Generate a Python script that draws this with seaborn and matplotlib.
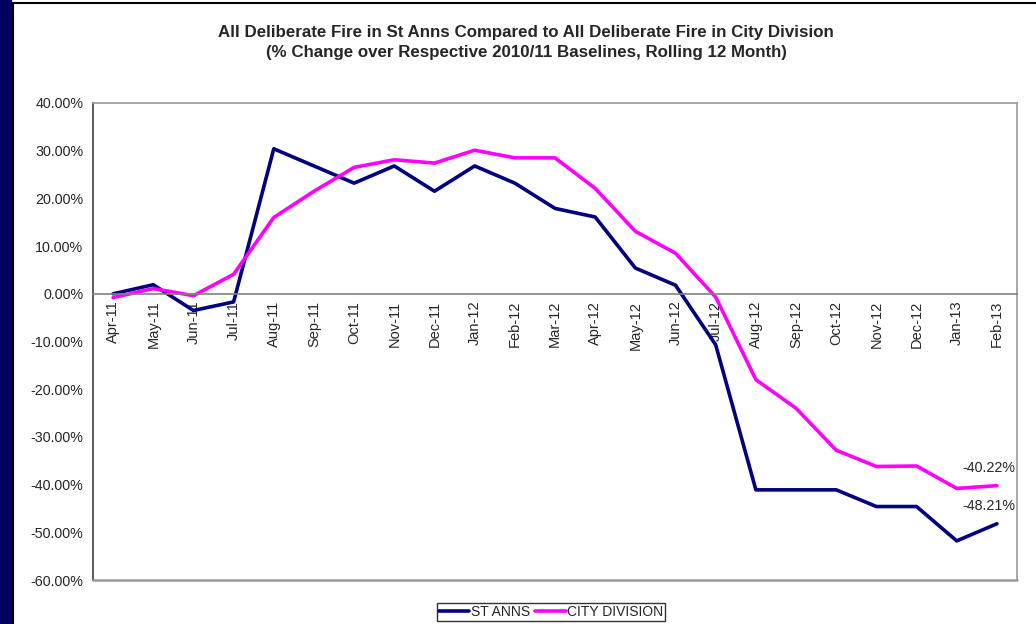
import matplotlib
matplotlib.use("Agg")
import matplotlib.pyplot as plt
import matplotlib.patches as mpatches
from matplotlib.lines import Line2D
import seaborn as sns
import pandas as pd
import numpy as np

months = ["Apr-11", "May-11", "Jun-11", "Jul-11", "Aug-11", "Sep-11", "Oct-11", "Nov-11",
          "Dec-11", "Jan-12", "Feb-12", "Mar-12", "Apr-12", "May-12", "Jun-12", "Jul-12",
          "Aug-12", "Sep-12", "Oct-12", "Nov-12", "Dec-12", "Jan-13", "Feb-13"]
st_anns = [0.0, 1.9, -3.5, -1.7, 30.4, 26.8, 23.2, 26.8, 21.5, 26.8, 23.2, 17.9, 16.1,
           5.4, 1.8, -10.7, -41.1, -41.1, -41.1, -44.6, -44.6, -51.8, -48.21]
city_division = [-0.8, 1.1, -0.4, 4.1, 16.0, 21.5, 26.5, 28.1, 27.4, 30.1, 28.5, 28.5, 22.1,
                 13.1, 8.5, -0.7, -18.0, -24.0, -32.8, -36.2, -36.1, -40.8, -40.22]
series_names = ["ST ANNS", "CITY DIVISION"]
y_ticks = [40, 30, 20, 10, 0, -10, -20, -30, -40, -50, -60]

sns.set_style("white")
plt.rcParams["font.family"] = ["Liberation Sans", "DejaVu Sans"]

df = pd.DataFrame({
    "idx": list(range(len(months))) * 2,
    "value": st_anns + city_division,
    "series": [series_names[0]] * len(months) + [series_names[1]] * len(months),
})

fig = plt.figure(figsize=(10.36, 6.24), dpi=100)
ax = fig.add_axes([93 / 1036, 1 - 580 / 624, (1017 - 93) / 1036, (580 - 103) / 624])

sns.lineplot(data=df, x="idx", y="value", hue="series", hue_order=series_names,
             palette=["#000080", "#FF00FF"], linewidth=2.6, ax=ax, legend=False)

# spines first (set_position resets tick settings)
ax.spines["bottom"].set_position(("data", 0))
ax.spines["bottom"].set_color("#808080")
ax.spines["bottom"].set_linewidth(1.2)
for s in ["top", "right"]:
    ax.spines[s].set_color("#999999")
    ax.spines[s].set_linewidth(1.2)
ax.spines["left"].set_color("#404040")
ax.spines["left"].set_linewidth(1.2)
ax.axhline(-60, color="#999999", linewidth=1.8, clip_on=False, zorder=3)

ax.set_xlim(-0.5, len(months) - 0.5)
ax.set_ylim(-60, 40)
ax.set_yticks(y_ticks)
ax.set_yticklabels([f"{v:.2f}%" for v in y_ticks], fontsize=10.3)
ax.set_xticks(range(len(months)))
ax.set_xticklabels(months, rotation=90, fontsize=10.5)
ax.set_xticks(np.arange(-0.5, len(months), 1.0), minor=True)
ax.tick_params(axis="x", which="major", length=0, pad=5)
ax.tick_params(axis="x", which="minor", length=5, width=1, color="#808080", direction="out")
ax.tick_params(axis="y", length=5, width=1, color="#404040", direction="out", pad=2)
ax.set_xlabel("")
ax.set_ylabel("")

last = len(months) - 1
ax.annotate(f"{city_division[-1]:.2f}%", (last, city_division[-1]), xytext=(-6, 8),
            textcoords="offset points", ha="center", va="bottom", fontsize=10.3)
ax.annotate(f"{st_anns[-1]:.2f}%", (last, st_anns[-1]), xytext=(-6, 8),
            textcoords="offset points", ha="center", va="bottom", fontsize=10.3)

fig.text(526 / 1036, 1 - 33 / 624,
         "All Deliberate Fire in St Anns Compared to All Deliberate Fire in City Division",
         ha="center", va="center", fontsize=12.2, fontweight="bold")
fig.text(526 / 1036, 1 - 53 / 624,
         "(% Change over Respective 2010/11 Baselines, Rolling 12 Month)",
         ha="center", va="center", fontsize=12.2, fontweight="bold")

handles = [Line2D([0], [0], color="#000080", lw=2.6), Line2D([0], [0], color="#FF00FF", lw=2.6)]
leg = fig.legend(handles, series_names, loc="center", bbox_to_anchor=(551 / 1036, 1 - 612 / 624),
                 ncol=2, fontsize=10, frameon=True, fancybox=False, handlelength=2.2,
                 handletextpad=0.1, columnspacing=0.4, borderpad=0.15, borderaxespad=0)
leg.get_frame().set_edgecolor("black")
leg.get_frame().set_linewidth(1.0)

# outer frame of the chart object
fig.add_artist(Line2D([13 / 1036, 1], [1 - 3 / 624, 1 - 3 / 624], color="black", lw=1.5,
                      transform=fig.transFigure))
fig.add_artist(Line2D([13 / 1036, 13 / 1036], [0, 1 - 3 / 624], color="black", lw=1.5,
                      transform=fig.transFigure))
fig.add_artist(mpatches.Rectangle((0, 0), 11 / 1036, 1, color="#000060",
                                  transform=fig.transFigure))

fig.savefig("out.png", dpi=100)
